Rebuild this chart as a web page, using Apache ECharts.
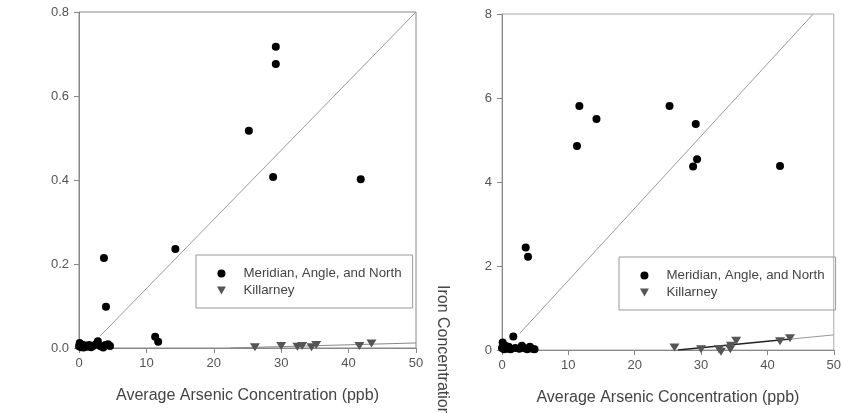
<!DOCTYPE html>
<html>
<head>
<meta charset="utf-8">
<script src="https://cdn.jsdelivr.net/npm/echarts@6/dist/echarts.min.js"></script>
<style>
  html, body { margin: 0; padding: 0; background: #fff; }
  #chart { width: 844px; height: 413px; }
</style>
</head>
<body>
<div id="chart"></div>
<script>
// values
const xTicks = [0, 10, 20, 30, 40, 50];
const leftYTicks = [0, 0.2, 0.4, 0.6, 0.8];
const rightYTicks = [0, 2, 4, 6, 8];

const leftMeridian = [
  [0.0, 0.004], [0.1, 0.012], [0.3, 0.002], [0.5, 0.008], [0.7, 0.001],
  [0.9, 0.006], [1.2, 0.003], [1.5, 0.007], [1.8, 0.002], [2.1, 0.005],
  [2.5, 0.009], [2.8, 0.016], [3.2, 0.004], [3.6, 0.001], [3.9, 0.007],
  [4.3, 0.009], [4.6, 0.005],
  [3.7, 0.214], [4.0, 0.098], [14.3, 0.236], [11.3, 0.027], [11.75, 0.015],
  [25.2, 0.517], [29.2, 0.717], [29.2, 0.676], [28.8, 0.407], [41.8, 0.402]
];
const leftKillarney = [
  [26.1, 0.002], [30.0, 0.005], [32.4, 0.003], [33.1, 0.005],
  [34.5, 0.002], [35.2, 0.007], [41.6, 0.005], [43.4, 0.011]
];
const leftMeridianFit = [[3.1, 0.028], [50, 0.8]];
const leftKillarneyFit = [[22.4, 0.0], [50, 0.012]];

const rightMeridian = [
  [0.0, 0.05], [0.1, 0.18], [0.3, 0.02], [0.5, 0.1], [0.8, 0.03],
  [1.0, 0.08], [1.3, 0.02], [1.7, 0.32], [2.0, 0.05], [2.6, 0.03],
  [3.0, 0.1], [3.4, 0.04], [3.8, 0.02], [4.2, 0.08], [4.6, 0.03], [4.9, 0.02],
  [3.57, 2.44], [3.92, 2.22], [11.3, 4.86], [11.66, 5.81], [14.24, 5.5],
  [25.25, 5.81], [29.2, 5.38], [29.4, 4.54], [28.8, 4.37], [41.9, 4.38]
];
const rightKillarney = [
  [26.0, 0.06], [30.0, 0.02], [32.7, 0.02], [33.0, -0.04], [34.4, 0.02],
  [34.5, 0.1], [35.3, 0.22], [41.9, 0.21], [43.4, 0.28]
];
const rightMeridianFit = [[2.7, 0.4], [46.9, 8]];
const rightKillarneyFit = [[26.5, 0.0], [43.5, 0.26]];
const rightKillarneyExt = [[43.5, 0.26], [50, 0.36]];

const seriesNames = ["Meridian, Angle, and North", "Killarney"];
const downTriangle = "path://M0,0 L10,0 L5,9 Z";

var chart = echarts.init(document.getElementById("chart"));
var font = "Liberation Sans, Arial, sans-serif";

function xAxisFor(grid) {
  return {
    type: "value",
    gridIndex: grid,
    min: xTicks[0],
    max: xTicks[xTicks.length - 1],
    interval: 10,
    name: "Average Arsenic Concentration (ppb)",
    nameLocation: "middle",
    nameGap: 40,
    nameTextStyle: { fontSize: 16, color: "#444", fontFamily: font },
    axisLine: { lineStyle: { color: "#888", width: 1 } },
    axisTick: { length: 5, lineStyle: { color: "#888" } },
    axisLabel: { color: "#555", fontSize: 13, fontFamily: font, margin: 9 },
    splitLine: { show: false }
  };
}

function yAxisFor(grid, ticks, digits) {
  return {
    type: "value",
    gridIndex: grid,
    min: ticks[0],
    max: ticks[ticks.length - 1],
    interval: ticks[1] - ticks[0],
    axisLine: { show: true, lineStyle: { color: "#888", width: 1 } },
    axisTick: { show: true, length: 5, lineStyle: { color: "#888" } },
    axisLabel: {
      color: "#555", fontSize: 13, fontFamily: font, margin: 10,
      formatter: function (v) { return v.toFixed(digits); }
    },
    splitLine: { show: false }
  };
}

function legendAt(left, top) {
  return {
    data: seriesNames,
    orient: "vertical",
    left: left,
    top: top,
    padding: [12, 11, 11, 21],
    itemWidth: 34,
    itemHeight: 8,
    itemGap: 4,
    borderColor: "#999",
    borderWidth: 1,
    selectedMode: false,
    textStyle: { fontSize: 13.3, color: "#444", fontFamily: font }
  };
}

function fitLine(data, xi, color, width) {
  return {
    type: "line",
    xAxisIndex: xi,
    yAxisIndex: xi,
    data: data,
    showSymbol: false,
    silent: true,
    lineStyle: { color: color, width: width },
    z: 1
  };
}

var option = {
  animation: false,
  backgroundColor: "#fff",
  grid: [
    { left: 79, right: 428, top: 12, bottom: 65, show: true, borderColor: "#888", borderWidth: 1 },
    { left: 502, right: 6, top: 14, bottom: 63, show: true, borderColor: "#aaa", borderWidth: 1 }
  ],
  xAxis: [xAxisFor(0), xAxisFor(1)],
  yAxis: [yAxisFor(0, leftYTicks, 1), yAxisFor(1, rightYTicks, 0)],
  legend: [legendAt(196, 255), legendAt(619, 257)],
  graphic: [
    {
      type: "text",
      x: 450,
      y: 285,
      rotation: -Math.PI / 2,
      style: {
        text: "Iron Concentration (mg/L)",
        font: "16px " + font,
        fill: "#444"
      }
    }
  ],
  series: [
    fitLine(leftMeridianFit, 0, "#999", 1),
    fitLine(leftKillarneyFit, 0, "#888", 1),
    {
      name: seriesNames[0], type: "scatter", xAxisIndex: 0, yAxisIndex: 0,
      data: leftMeridian, symbol: "circle", symbolSize: 8, clip: false,
      itemStyle: { color: "#000", opacity: 1 }, z: 3
    },
    {
      name: seriesNames[1], type: "scatter", xAxisIndex: 0, yAxisIndex: 0,
      data: leftKillarney, symbol: downTriangle, symbolSize: [10, 8], clip: false,
      itemStyle: { color: "#555", opacity: 1 }, z: 3
    },
    fitLine(rightMeridianFit, 1, "#999", 1),
    fitLine(rightKillarneyFit, 1, "#222", 1.5),
    fitLine(rightKillarneyExt, 1, "#999", 1),
    {
      name: seriesNames[0], type: "scatter", xAxisIndex: 1, yAxisIndex: 1,
      data: rightMeridian, symbol: "circle", symbolSize: 8, clip: false,
      itemStyle: { color: "#000", opacity: 1 }, z: 3
    },
    {
      name: seriesNames[1], type: "scatter", xAxisIndex: 1, yAxisIndex: 1,
      data: rightKillarney, symbol: downTriangle, symbolSize: [10, 8], clip: false,
      itemStyle: { color: "#555", opacity: 1 }, z: 3
    }
  ]
};

chart.setOption(option);
</script>
</body>
</html>
